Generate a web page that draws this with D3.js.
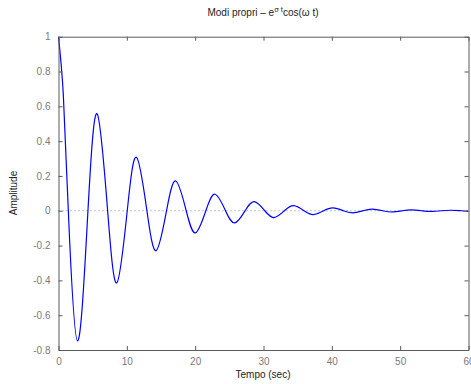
<!DOCTYPE html>
<html>
<head>
<meta charset="utf-8">
<script src="https://cdn.jsdelivr.net/npm/d3@7"></script>
<style>
  html, body { margin: 0; padding: 0; background: #fff; }
  svg { display: block; font-family: "Liberation Sans", Arial, Helvetica, sans-serif; }
</style>
</head>
<body>
<svg id="chart" width="471" height="384"></svg>
<script>
// Time samples (s) at the start, extrema and zero crossings of the mode
const tempo = [
  0, 0.7, 1.44, 2.79, 4.31, 5.66, 7.19, 8.54, 10.06, 11.41, 12.94, 14.29,
  15.81, 17.16, 18.69, 20.04, 21.56, 22.91, 24.44, 25.79, 27.31, 28.66,
  30.19, 31.54, 33.06, 34.41, 35.94, 37.29, 38.81, 40.16, 41.69, 43.04,
  44.56, 45.91, 47.44, 48.79, 50.31, 51.66, 53.19, 54.54, 56.06, 57.41,
  58.94, 60
];
// Amplitude read at those times
const ampiezza = [
  1, 0.671, 0, -0.748, 0, 0.557, 0, -0.414, 0, 0.308, 0, -0.229,
  0, 0.171, 0, -0.127, 0, 0.095, 0, -0.070, 0, 0.052,
  0, -0.039, 0, 0.029, 0, -0.022, 0, 0.016, 0, -0.012,
  0, 0.009, 0, -0.007, 0, 0.005, 0, -0.004, 0, 0.003,
  0, -0.002
];
const xTicks = [0, 10, 20, 30, 40, 50, 60];
const yTicks = [-0.8, -0.6, -0.4, -0.2, 0, 0.2, 0.4, 0.6, 0.8, 1];

const svg = d3.select("#chart");
const plotL = 58.5, plotR = 468.5, plotT = 36.7, plotB = 350;

const x = d3.scaleLinear().domain([0, 60]).range([plotL, plotR]);
const y = d3.scaleLinear().domain([-0.8, 1]).range([plotB, plotT]);

const axisColor = "#5a5a5a";
const labelColor = "#7a7a7a";
const fmt = v => (v < 0 ? "-" : "") + d3.format("")(Math.abs(v));

// zero reference line
svg.append("line")
  .attr("x1", x(0)).attr("x2", x(60))
  .attr("y1", y(0)).attr("y2", y(0))
  .attr("stroke", "#888").attr("stroke-width", 1)
  .attr("stroke-dasharray", "1,3");

// the damped mode
const data = tempo.map((t, i) => [t, ampiezza[i]]);
svg.append("path")
  .datum(data)
  .attr("fill", "none")
  .attr("stroke", "#0000ff")
  .attr("stroke-width", 1.2)
  .attr("d", d3.line().x(d => x(d[0])).y(d => y(d[1])).curve(d3.curveNatural));

// axes: bottom, top, left, right with inward ticks
function styleAxis(g) {
  g.selectAll("path, line").attr("stroke", axisColor);
  g.select(".domain").attr("stroke-width", 1);
  g.selectAll("text").attr("fill", labelColor).attr("font-size", 10)
    .attr("font-family", "Liberation Sans, Arial, sans-serif");
}
svg.append("g").attr("transform", `translate(0,${plotB})`)
  .call(d3.axisBottom(x).tickValues(xTicks).tickSizeInner(-4).tickSizeOuter(0).tickPadding(8).tickFormat(fmt))
  .call(styleAxis);
svg.append("g").attr("transform", `translate(0,${plotT})`)
  .call(d3.axisTop(x).tickValues(xTicks).tickSizeInner(-4).tickSizeOuter(0).tickFormat(""))
  .call(styleAxis);
svg.append("g").attr("transform", `translate(${plotL},0)`)
  .call(d3.axisLeft(y).tickValues(yTicks).tickSizeInner(-4).tickSizeOuter(0).tickPadding(8).tickFormat(fmt))
  .call(styleAxis);
svg.append("g").attr("transform", `translate(${plotR},0)`)
  .call(d3.axisRight(y).tickValues(yTicks).tickSizeInner(-4).tickSizeOuter(0).tickFormat(""))
  .call(styleAxis);

// title with superscript exponent
const title = svg.append("text")
  .attr("x", 263).attr("y", 16)
  .attr("text-anchor", "middle")
  .attr("font-size", 10).attr("fill", "#222");
title.append("tspan").text("Modi propri \u2013 e");
title.append("tspan").attr("dy", -4).attr("font-size", 7.5).text("\u03C3 t");
title.append("tspan").attr("dy", 4).text("cos(\u03C9 t)");

// axis titles
svg.append("text")
  .attr("x", 263).attr("y", 378)
  .attr("text-anchor", "middle").attr("font-size", 10).attr("fill", "#222")
  .text("Tempo (sec)");
svg.append("text")
  .attr("transform", "translate(17,193) rotate(-90)")
  .attr("text-anchor", "middle").attr("font-size", 10).attr("fill", "#222")
  .text("Amplitude");
</script>
</body>
</html>
